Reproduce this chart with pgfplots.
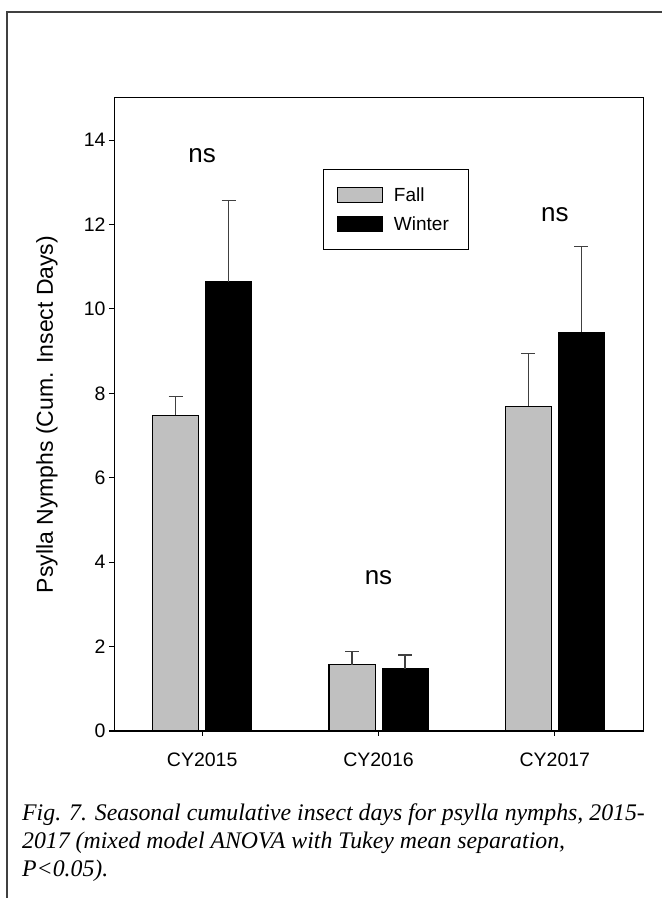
\documentclass[border=0pt]{standalone}
\usepackage{pgfplots}
\pgfplotsset{compat=1.18}
\usepackage{fontspec}
\setmainfont{Liberation Sans}
\newfontfamily\capfont{Liberation Serif}
\definecolor{fallgray}{RGB}{192,192,192}
\definecolor{errgray}{RGB}{64,64,64}
\begin{document}
\begin{tikzpicture}[x=1pt,y=1pt]
\path[use as bounding box] (0,0) rectangle (662,898);
% outer frame
\draw[line width=1.2pt, black!75] (7,0) -- (7,886) -- (662,886);
\begin{axis}[
  at={(114pt,167pt)}, anchor=south west,
  scale only axis, width=529pt, height=633pt,
  xmin=-0.5, xmax=2.5, ymin=0, ymax=15,
  axis line style={line width=1pt},
  xtick={0,1,2}, xticklabels={CY2015,CY2016,CY2017},
  ytick={0,2,...,14},
  tick align=outside, xtick pos=bottom, ytick pos=left,
  major tick length=5pt,
  tick style={line width=1pt, black},
  /pgf/number format/assume math mode=true,
  yticklabel style={font=\fontsize{19.5}{19.5}\selectfont},
  xticklabel style={font=\fontsize{19.5}{19.5}\selectfont, yshift=-13pt},
  ylabel={Psylla Nymphs (Cum. Insect Days)},
  ylabel style={font=\fontsize{23}{23}\selectfont, at={(axis description cs:-0.127,0.5)}, anchor=center},
  ybar, bar width=46pt,
  error bars/y dir=plus, error bars/y explicit,
  error bars/error bar style={errgray, line width=1.2pt},
  error bars/error mark options={errgray, line width=1.2pt, mark size=7pt, rotate=90},
  legend image code/.code={\draw[#1] (0pt,-7.5pt) rectangle (45pt,7.5pt);},
  legend cell align=left,
  legend style={at={(rel axis cs:0.395,0.888)}, anchor=north west,
    draw=black, line width=1pt, font=\fontsize{19}{19}\selectfont,
    inner xsep=13.5pt, inner ysep=17.5pt, row sep=13pt,
    nodes={inner sep=0pt},
    /tikz/every odd column/.append style={column sep=11pt}},
]
\addplot[bar shift=-26.5pt, fill=fallgray, draw=black, line width=1pt]
  coordinates {(0,7.48) +- (0,0.45) (1,1.57) +- (0,0.32) (2,7.70) +- (0,1.25)};
\addlegendentry{Fall}
\addplot[bar shift=26.5pt, fill=black, draw=black, line width=1pt]
  coordinates {(0,10.64) +- (0,1.93) (1,1.48) +- (0,0.32) (2,9.45) +- (0,2.03)};
\addlegendentry{Winter\hspace*{6pt}}
\node[font=\fontsize{26}{26}\selectfont] at (axis cs:0,13.64) {ns};
\node[font=\fontsize{26}{26}\selectfont] at (axis cs:1,3.64) {ns};
\node[font=\fontsize{26}{26}\selectfont] at (axis cs:2,12.24) {ns};
\end{axis}
\begin{scope}[font=\capfont\itshape\fontsize{23.8}{23.8}\selectfont]
\node[anchor=base west, inner sep=0pt] at (22,77) {Fig. 7. Seasonal cumulative insect days for psylla nymphs, 2015-};
\node[anchor=base west, inner sep=0pt] at (22,49) {2017 (mixed model ANOVA with Tukey mean separation,};
\node[anchor=base west, inner sep=0pt] at (22,21) {P<0.05).};
\end{scope}
\end{tikzpicture}
\end{document}
